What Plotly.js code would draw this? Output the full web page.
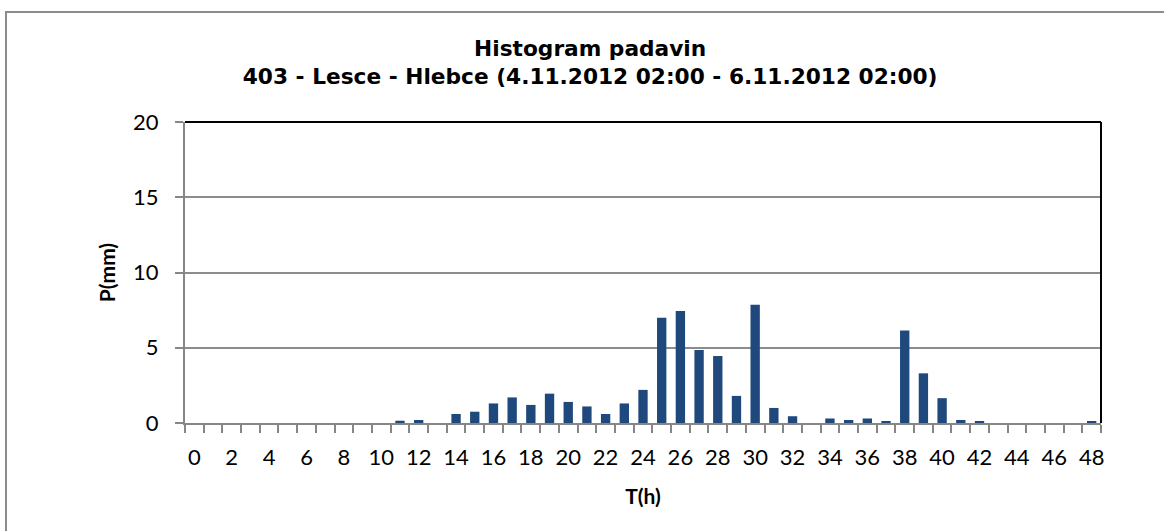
<!DOCTYPE html>
<html>
<head>
<meta charset="utf-8">
<script src="https://cdn.plot.ly/plotly-3.0.1.min.js"></script>
<style>
  html, body { margin: 0; padding: 0; overflow: hidden; background: #ffffff; }
  #chart { width: 1164px; height: 531px; position: absolute; left: 0; top: 0; }
  #frame { position: absolute; left: 5px; top: 11px; width: 2000px; height: 2000px;
           border-left: 2px solid #8c8c8c; border-top: 2px solid #8c8c8c; pointer-events: none; }
</style>
</head>
<body>
<div id="chart"></div>
<div id="frame"></div>
<script>
// Hours (categories)
const hours = [0,1,2,3,4,5,6,7,8,9,10,11,12,13,14,15,16,17,18,19,20,21,22,23,24,
               25,26,27,28,29,30,31,32,33,34,35,36,37,38,39,40,41,42,43,44,45,46,47,48];
// Precipitation per hour (mm)
const precip = [0,0,0,0,0,0,0,0,0,0,0,0.15,0.2,0,0.6,0.75,1.3,1.7,1.2,1.95,1.4,1.1,0.6,1.3,2.2,
                7.0,7.45,4.85,4.45,1.8,7.85,1.0,0.45,0,0.3,0.2,0.3,0.1,6.15,3.3,1.65,0.2,0.1,0,0,0,0,0,0.1];
// Tick labels shown on the x axis
const xTickVals = [0,2,4,6,8,10,12,14,16,18,20,22,24,26,28,30,32,34,36,38,40,42,44,46,48];
const xTickText = ["0","2","4","6","8","10","12","14","16","18","20","22","24","26","28","30","32","34","36","38","40","42","44","46","48"];
const yTickVals = [0,5,10,15,20];

const titleLine1 = "Histogram padavin";
const titleLine2 = "403 - Lesce - Hlebce (4.11.2012 02:00 - 6.11.2012 02:00)";

const boundaries = [];
for (let i = 0; i <= hours.length; i++) boundaries.push(hours[0] - 0.5 + i);

const tickFont = {family: "Lato, 'Open Sans', sans-serif", size: 22, color: "#000000"};
const axisTitleFont = {family: "Lato, 'Open Sans', sans-serif", size: 21, color: "#000000", weight: "bold"};

const trace = {
  type: "bar",
  x: hours,
  y: precip,
  marker: {color: "#1f497d", line: {width: 0}},
  hoverinfo: "x+y"
};

const layout = {
  width: 1164,
  height: 531,
  margin: {l: 185, r: 63, t: 122, b: 108},
  paper_bgcolor: "rgba(0,0,0,0)",
  plot_bgcolor: "#ffffff",
  bargap: 0.5,
  showlegend: false,
  title: {
    text: "<b>" + titleLine1 + "<br>" + titleLine2 + "</b>",
    font: {family: "'DejaVu Sans', sans-serif", size: 21.7, color: "#000000"},
    xref: "container", x: 0.507, xanchor: "center",
    yref: "container", y: 0.895, yanchor: "top"
  },
  xaxis: {
    type: "linear",
    range: [hours[0] - 0.5, hours[hours.length - 1] + 0.5],
    tickmode: "array",
    tickvals: xTickVals,
    ticktext: xTickText,
    ticks: "",
    ticklabelstandoff: 14,
    tickfont: tickFont,
    showgrid: false,
    zeroline: false,
    showline: true,
    linecolor: "#868686",
    linewidth: 2,
    minor: {tickmode: "array", tickvals: boundaries, ticks: "outside", ticklen: 8, tickwidth: 2, tickcolor: "#868686", showgrid: false},
    title: {text: "T(h)", font: axisTitleFont, standoff: 20},
    fixedrange: true
  },
  yaxis: {
    range: [0, 20],
    tickmode: "array",
    tickvals: yTickVals,
    ticks: "outside",
    ticklen: 8,
    tickwidth: 2,
    tickcolor: "#868686",
    ticklabelstandoff: 12,
    tickfont: tickFont,
    showgrid: true,
    gridcolor: "#8c8c8c",
    gridwidth: 1.5,
    zeroline: false,
    showline: true,
    linecolor: "#868686",
    linewidth: 2,
    title: {text: "P(mm)", font: axisTitleFont, standoff: 12},
    fixedrange: true
  },
  shapes: [
    {type: "line", xref: "paper", yref: "paper", x0: 0, x1: 1, y0: 1, y1: 1, line: {color: "#000000", width: 2}},
    {type: "line", xref: "paper", yref: "paper", x0: 1, x1: 1, y0: 0, y1: 1, line: {color: "#000000", width: 2}}
  ]
};

Plotly.newPlot("chart", [trace], layout, {displayModeBar: false, staticPlot: false});
</script>
</body>
</html>
